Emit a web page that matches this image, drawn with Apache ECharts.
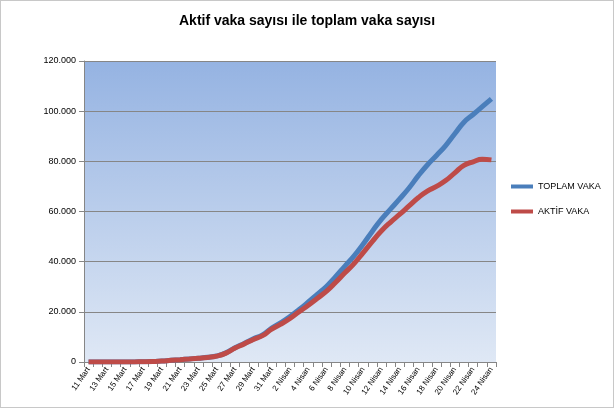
<!DOCTYPE html>
<html><head><meta charset="utf-8">
<script src="https://cdn.jsdelivr.net/npm/echarts@6/dist/echarts.min.js"></script>
<style>html,body{margin:0;padding:0;background:#fff}#c{width:612px;height:406px;border:1px solid #c8c8c8}</style>
</head><body><div id="c"></div>
<script>
const categories = ["11 Mart","12 Mart","13 Mart","14 Mart","15 Mart","16 Mart","17 Mart","18 Mart","19 Mart","20 Mart","21 Mart","22 Mart","23 Mart","24 Mart","25 Mart","26 Mart","27 Mart","28 Mart","29 Mart","30 Mart","31 Mart","1 Nisan","2 Nisan","3 Nisan","4 Nisan","5 Nisan","6 Nisan","7 Nisan","8 Nisan","9 Nisan","10 Nisan","11 Nisan","12 Nisan","13 Nisan","14 Nisan","15 Nisan","16 Nisan","17 Nisan","18 Nisan","19 Nisan","20 Nisan","21 Nisan","22 Nisan","23 Nisan","24 Nisan"];
const toplamVaka = [1,1,5,6,18,47,98,191,359,670,947,1236,1529,1872,2433,3629,5698,7402,9217,10827,13531,15679,18135,20921,23934,27069,30217,34109,38226,42282,47029,52167,56956,61049,65111,69392,74193,78546,82329,86306,90980,95591,98674,101790,104912];
const aktifVaka = [1,1,5,6,18,46,97,189,355,661,926,1198,1488,1828,2348,3528,5564,7224,8981,10497,13074,15069,17364,20012,22647,25453,28242,31802,35568,39232,43600,48101,52312,55796,58909,62200,65461,68146,69986,72313,75410,78414,79821,80808,80575];
const chart = echarts.init(document.getElementById('c'));
chart.setOption({
  animation:false,
  title:{text:'Aktif vaka sayısı ile toplam vaka sayısı',left:'center',top:8,textStyle:{fontFamily:'Liberation Sans',fontSize:14,fontWeight:'bold',color:'#000'}},
  grid:{left:83,right:117,top:60,bottom:45,containLabel:false,show:true,borderWidth:0,
    backgroundColor:new echarts.graphic.LinearGradient(0,0,0,1,[{offset:0,color:'#95b3e2'},{offset:1,color:'#dfe8f5'}])},
  legend:{orient:'vertical',left:505,top:176,itemGap:16,itemWidth:22,itemHeight:4,icon:'rect',
    textStyle:{fontFamily:'Liberation Sans',fontSize:9,color:'#000'},data:['TOPLAM VAKA','AKTİF VAKA']},
  xAxis:{type:'category',data:categories,boundaryGap:true,
    axisLine:{lineStyle:{color:'#868686'}},axisTick:{show:true,interval:0,lineStyle:{color:'#868686'}},
    axisLabel:{interval:1,rotate:55,fontFamily:'Liberation Sans',fontSize:8,color:'#000',margin:6}},
  yAxis:{type:'value',min:0,max:120000,interval:20000,
    axisLine:{show:true,lineStyle:{color:'#868686'}},axisTick:{show:true,lineStyle:{color:'#868686'}},
    splitLine:{lineStyle:{color:'#868686'}},
    axisLabel:{fontFamily:'Liberation Sans',fontSize:9,color:'#000',formatter:v=>v===0?'0':v.toLocaleString('de-DE')}},
  series:[
    {name:'TOPLAM VAKA',type:'line',data:toplamVaka,showSymbol:false,smooth:true,lineStyle:{width:5,color:'#4a7ebb'},itemStyle:{color:'#4a7ebb'}},
    {name:'AKTİF VAKA',type:'line',data:aktifVaka,showSymbol:false,smooth:true,lineStyle:{width:5,color:'#be4b48'},itemStyle:{color:'#be4b48'}}
  ]
});
</script></body></html>
